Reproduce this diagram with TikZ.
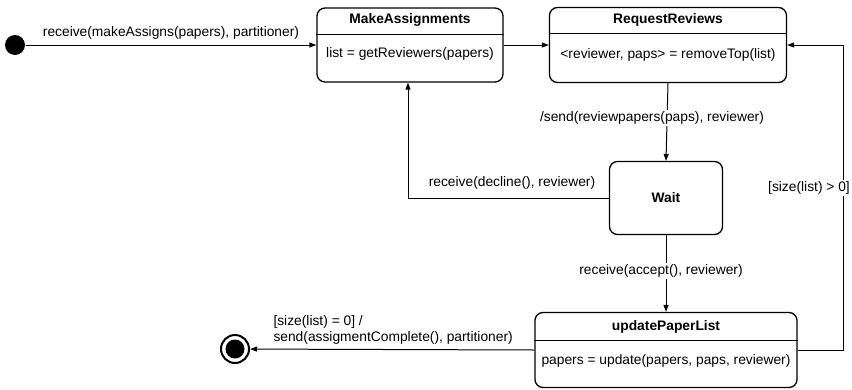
\documentclass[tikz,border=0pt]{standalone}
\usepackage{fontspec}
\setmainfont{Liberation Sans}
\usetikzlibrary{arrows.meta}
\begin{document}
\begin{tikzpicture}[x=1pt, y=-1pt, line width=1pt, >={Triangle[length=7pt,width=5pt]},
  font=\fontsize{13.8}{16}\selectfont]
	\tikzset{
	    sbox/.style= {draw, rounded corners=8pt, line width=1.3pt, inner sep=0pt},
	    stitle/.style= {font=\fontsize{13.8}{16}\selectfont\bfseries},
	    tlabel/.style= {fill=white, inner sep=1.5pt},
	}
	\useasboundingbox (0,0) rectangle (852,389);

	% states
	\node[circle, fill=black, minimum size=20pt, inner sep=0pt] (init) at (15,45) {};
	\node[sbox, minimum width=186pt, minimum height=74pt] (ma) at (410,45) {};
	\node[sbox, minimum width=237pt, minimum height=75pt] (rr) at (668,45) {};
	\node[sbox, minimum width=113pt, minimum height=73pt] (wait) at (666,198) {};
	\node[sbox, minimum width=262pt, minimum height=75pt] (upl) at (666,350) {};
	\node[circle, draw, line width=2pt, minimum size=28pt, inner sep=0pt] (final) at (235,349) {};
	\fill (final.center) circle (9.5pt);

	% compartments
	\draw (ma.west |- 0,34) -- (ma.east |- 0,34);
	\draw (rr.west |- 0,33) -- (rr.east |- 0,33);
	\draw (upl.west |- 0,340) -- (upl.east |- 0,340);
	\node[stitle] (matitle) at (410,20) {MakeAssignments};
	\node (mabody) at (410,54) {list = getReviewers(papers)};
	\node[stitle] (rrtitle) at (668,20) {RequestReviews};
	\node (rrbody) at (668,55) {<reviewer, paps> = removeTop(list)};
	\node[stitle] (waittitle) at (666,198) {Wait};
	\node[stitle] (upltitle) at (666,327) {updatePaperList};
	\node (uplbody) at (666,361) {papers = update(papers, paps, reviewer)};

	% transitions
	\coordinate (loop) at (843,45);
	\draw[->] (init) -- (ma.west);
	\draw[->] (ma.east) -- (rr.west);
	\draw[->] (rr.south) -- (wait.north);
	\draw[->] (wait.west) -| (ma.south -| 408,0);
	\draw[->] (wait.south) -- (upl.north);
	\draw[->] (upl.east) -| (loop) -- (rr.east);
	\draw[->] (upl.west) -- (final);

	% labels
	\node (l1) at (171,33) {receive(makeAssigns(papers), partitioner)};
	\node[tlabel] (l2) at (652,118) {/send(reviewpapers(paps), reviewer)};
	\node (l3) at (512,183) {receive(decline(), reviewer)};
	\node[tlabel] (l4) at (661,271) {receive(accept(), reviewer)};
	\node[tlabel] (l5) at (809,188) {[size(list) > 0]};
	\node[align=left, anchor=west, inner sep=0pt] (l6) at (273,330) {[size(list) = 0] /\\send(assigmentComplete(), partitioner)};
\end{tikzpicture}
\end{document}
